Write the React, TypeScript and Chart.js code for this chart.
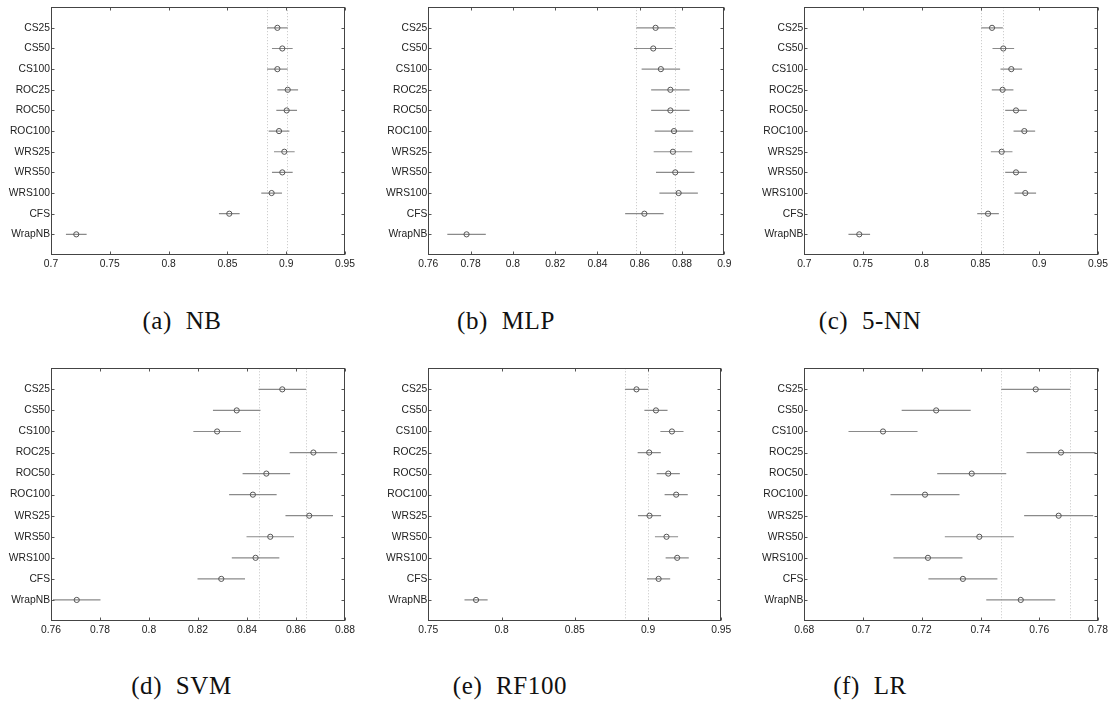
import React, { useEffect, useRef } from 'react';
import { Chart, registerables } from 'chart.js';
Chart.register(...registerables);

// ---------- data ----------
const categories = ['CS25', 'CS50', 'CS100', 'ROC25', 'ROC50', 'ROC100', 'WRS25', 'WRS50', 'WRS100', 'CFS', 'WrapNB'];

const nbMeans = [0.8925, 0.8967, 0.8925, 0.9013, 0.9004, 0.8939, 0.8984, 0.8967, 0.8876, 0.8516, 0.7215];
const mlpMeans = [0.8675, 0.8664, 0.8700, 0.8745, 0.8745, 0.8762, 0.8757, 0.8768, 0.8784, 0.8622, 0.7781];
const knnMeans = [0.8598, 0.8694, 0.8762, 0.8688, 0.8802, 0.8873, 0.8680, 0.8802, 0.8881, 0.8564, 0.7468];
const svmMeans = [0.8544, 0.8358, 0.8278, 0.8671, 0.8479, 0.8424, 0.8654, 0.8495, 0.8435, 0.8295, 0.7705];
const rfMeans = [0.8921, 0.9054, 0.9163, 0.9008, 0.9138, 0.9192, 0.9010, 0.9126, 0.9199, 0.9072, 0.7826];
const lrMeans = [0.7588, 0.7249, 0.7068, 0.7674, 0.7370, 0.7211, 0.7666, 0.7396, 0.7221, 0.7340, 0.7537];

const panelMeans = [nbMeans, mlpMeans, knnMeans, svmMeans, rfMeans, lrMeans];
const halfWidths = [0.0088, 0.0091, 0.0092, 0.0097, 0.0079, 0.01175];

const refNB = [0.8834, 0.9010];
const refMLP = [0.8582, 0.8767];
const refKNN = [0.8507, 0.8691];
const refSVM = [0.8448, 0.8641];
const refRF = [0.8844, 0.8999];
const refLR = [0.7471, 0.7706];
const panelRefs = [refNB, refMLP, refKNN, refSVM, refRF, refLR];

const xMins = [0.7, 0.76, 0.7, 0.76, 0.75, 0.68];
const xMaxs = [0.95, 0.9, 0.95, 0.88, 0.95, 0.78];
const xSteps = [0.05, 0.02, 0.05, 0.02, 0.05, 0.02];

const captions = ['(a)  NB', '(b)  MLP', '(c)  5-NN', '(d)  SVM', '(e)  RF100', '(f)  LR'];

// ---------- layout ----------
const plotBoxes = [
  { left: 51, top: 3.4, right: 345, bottom: 254.3 },
  { left: 428.3, top: 3.4, right: 724.3, bottom: 254.3 },
  { left: 804.3, top: 3.4, right: 1098, bottom: 254.3 },
  { left: 51, top: 368.3, right: 345, bottom: 620.5 },
  { left: 428.3, top: 368.3, right: 721.3, bottom: 620.5 },
  { left: 804.3, top: 368.3, right: 1098, bottom: 620.5 },
];
const canvasOrigins = [
  { x: 0, y: 0 }, { x: 371, y: 0 }, { x: 742, y: 0 },
  { x: 0, y: 350 }, { x: 371, y: 350 }, { x: 742, y: 350 },
];
const captionCenters = [
  { x: 182, y: 308 }, { x: 506, y: 308 }, { x: 870, y: 308 },
  { x: 181.5, y: 673 }, { x: 510, y: 673 }, { x: 870, y: 673 },
];

const PAD_RIGHT = 22;
const X_AXIS_H = 30;
const tickFont = { family: '"Liberation Sans", Arial, sans-serif', size: 10.3 };

const decoPlugin = {
  id: 'deco',
  beforeDatasetsDraw(chart: any, _args: any, opts: any) {
    const { ctx, chartArea: a } = chart;
    const x = chart.scales.x;
    const y = chart.scales.y;
    ctx.save();
    ctx.beginPath();
    ctx.rect(a.left, a.top, a.right - a.left, a.bottom - a.top);
    ctx.clip();
    // reference dotted lines
    ctx.strokeStyle = '#c4c4c4';
    ctx.lineWidth = 1;
    ctx.setLineDash([1, 2]);
    for (const v of opts.refs) {
      const px = Math.round(x.getPixelForValue(v)) + 0.5;
      ctx.beginPath();
      ctx.moveTo(px, a.top);
      ctx.lineTo(px, a.bottom);
      ctx.stroke();
    }
    ctx.setLineDash([]);
    // horizontal error bars
    ctx.strokeStyle = '#8a8a8a';
    ctx.lineWidth = 1.2;
    opts.means.forEach((m: number, i: number) => {
      const py = y.getPixelForValue(i + 1);
      ctx.beginPath();
      ctx.moveTo(x.getPixelForValue(m - opts.hw), py);
      ctx.lineTo(x.getPixelForValue(m + opts.hw), py);
      ctx.stroke();
    });
    ctx.restore();
  },
  afterDraw(chart: any) {
    const { ctx, chartArea: a } = chart;
    const x = chart.scales.x;
    const y = chart.scales.y;
    ctx.save();
    ctx.strokeStyle = '#555';
    ctx.lineWidth = 1;
    const L = Math.round(a.left) + 0.5;
    const R = Math.round(a.right) - 0.5;
    const T = Math.round(a.top) + 0.5;
    const B = Math.round(a.bottom) - 0.5;
    // ticks
    ctx.beginPath();
    for (const t of x.ticks) {
      const px = Math.round(x.getPixelForValue(t.value)) + 0.5;
      ctx.moveTo(px, B); ctx.lineTo(px, B - 3);
      ctx.moveTo(px, T); ctx.lineTo(px, T + 3);
    }
    for (let i = 1; i <= categories.length; i++) {
      const py = Math.round(y.getPixelForValue(i)) + 0.5;
      ctx.moveTo(L, py); ctx.lineTo(L + 3, py);
      ctx.moveTo(R, py); ctx.lineTo(R - 3, py);
    }
    ctx.stroke();
    // box
    ctx.strokeStyle = '#444';
    ctx.strokeRect(L, T, R - L, B - T);
    ctx.restore();
  },
};

function Panel({ idx }: { idx: number }) {
  const ref = useRef<HTMLCanvasElement>(null);
  const box = plotBoxes[idx];
  const org = canvasOrigins[idx];
  const yAxisW = box.left - org.x;
  const padTop = box.top - org.y;
  const w = Math.ceil(box.right - org.x + PAD_RIGHT);
  const h = Math.ceil(padTop + (box.bottom - box.top) + X_AXIS_H);

  useEffect(() => {
    if (!ref.current) return;
    const means = panelMeans[idx];
    const chart = new Chart(ref.current, {
      type: 'scatter',
      data: {
        datasets: [
          {
            data: means.map((m, i) => ({ x: m, y: i + 1 })),
            pointRadius: 2.6,
            pointBorderWidth: 1,
            pointBorderColor: '#555',
            pointBackgroundColor: 'rgba(0,0,0,0)',
            showLine: false,
          },
        ],
      },
      plugins: [decoPlugin],
      options: {
        animation: false,
        responsive: false,
        devicePixelRatio: 1,
        layout: { padding: { top: padTop, right: w - (box.right - org.x), left: 0, bottom: 0 } },
        plugins: {
          legend: { display: false },
          tooltip: { enabled: false },
          deco: { refs: panelRefs[idx], means, hw: halfWidths[idx] },
        } as any,
        scales: {
          x: {
            type: 'linear',
            position: 'bottom',
            min: xMins[idx],
            max: xMaxs[idx],
            grid: { display: false, drawTicks: false },
            border: { display: false },
            ticks: {
              stepSize: xSteps[idx],
              autoSkip: false,
              maxRotation: 0,
              padding: 3,
              color: '#222',
              font: tickFont,
              callback: (v: any) => String(parseFloat(Number(v).toFixed(4))),
            },
            afterFit: (s: any) => { s.height = X_AXIS_H; },
          },
          y: {
            type: 'linear',
            min: 0,
            max: 12,
            reverse: true,
            grid: { display: false, drawTicks: false },
            border: { display: false },
            ticks: {
              stepSize: 1,
              autoSkip: false,
              padding: 1,
              color: '#222',
              font: tickFont,
              callback: (v: any) => categories[Number(v) - 1] ?? '',
            },
            afterFit: (s: any) => { s.width = yAxisW; },
          },
        },
      } as any,
    });
    return () => chart.destroy();
  }, [idx]);

  return (
    <canvas
      ref={ref}
      width={w}
      height={h}
      style={{ position: 'absolute', left: org.x, top: org.y, width: w, height: h }}
    />
  );
}

export default function App() {
  return (
    <div style={{ position: 'fixed', left: 0, top: 0, width: 1114, height: 707, background: '#fff', overflow: 'hidden' }}>
      {plotBoxes.map((_, i) => <Panel key={i} idx={i} />)}
      {captions.map((c, i) => (
        <div
          key={'c' + i}
          style={{
            position: 'absolute',
            left: captionCenters[i].x - 100,
            top: captionCenters[i].y,
            width: 200,
            textAlign: 'center',
            fontFamily: '"Liberation Serif", "Times New Roman", serif',
            fontSize: 25,
            lineHeight: '25px',
            letterSpacing: '0.6px',
            whiteSpace: 'pre',
            color: '#111',
          }}
        >
          {c}
        </div>
      ))}
    </div>
  );
}
